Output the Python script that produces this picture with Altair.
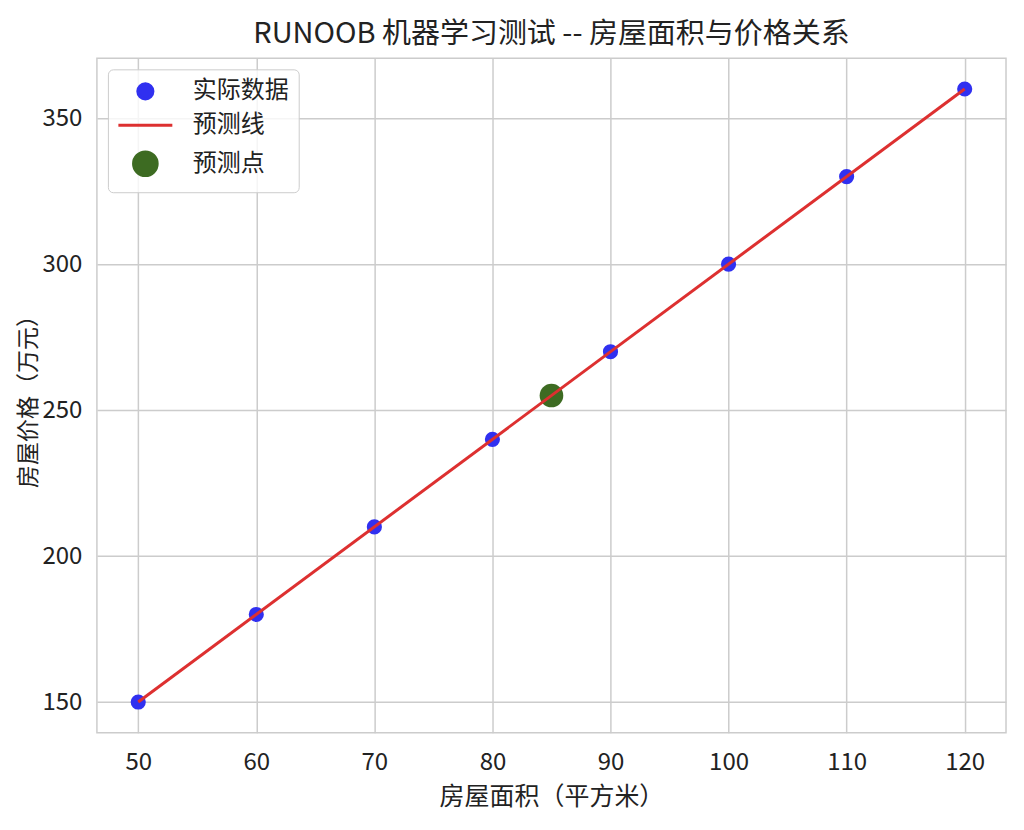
import altair as alt
import pandas as pd

areas = [50, 60, 70, 80, 90, 100, 110, 120]
prices = [150, 180, 210, 240, 270, 300, 330, 360]
pred_area = [85]
pred_price = [255]
line_x = [50, 120]
line_y = [150, 360]
labels = ["实际数据", "预测线", "预测点"]
colors = ["#3030f0", "#dd3030", "#3d6b22"]

FONT = "Noto Sans CJK SC"

pts = pd.DataFrame({"x": areas, "y": prices, "s": labels[0]})
pred = pd.DataFrame({"x": pred_area, "y": pred_price, "s": labels[2]})
ln = pd.DataFrame({"x": line_x, "y": line_y, "s": labels[1]})

xs = alt.Scale(domain=[46.5, 123.5], nice=False, zero=False)
ys = alt.Scale(domain=[139.5, 370.5], nice=False, zero=False)

xenc = alt.X("x:Q", scale=xs, title="房屋面积（平方米）",
             axis=alt.Axis(values=[50, 60, 70, 80, 90, 100, 110, 120]))
yenc = alt.Y("y:Q", scale=ys, title="房屋价格（万元）",
             axis=alt.Axis(values=[150, 200, 250, 300, 350]))

leg = alt.Legend(title=None, orient="top-left")
fill = alt.Fill("s:N", sort=labels, scale=alt.Scale(domain=labels, range=colors), legend=leg)
stroke = alt.Stroke("s:N", sort=labels, scale=alt.Scale(domain=labels, range=colors), legend=leg)
shape = alt.Shape("s:N", sort=labels,
                  scale=alt.Scale(domain=labels, range=["circle", "M-3,0L3,0", "circle"]), legend=leg)
size = alt.Size("s:N", sort=labels,
                scale=alt.Scale(type="ordinal", domain=labels, range=[230, 324, 560]), legend=leg)

p1 = alt.Chart(pts).mark_point(filled=True, opacity=1, strokeWidth=0).encode(
    x=xenc, y=yenc, fill=fill, stroke=stroke, shape=shape, size=size)
p2 = alt.Chart(pred).mark_point(filled=True, opacity=1, strokeWidth=0).encode(
    x=xenc, y=yenc, fill=fill, stroke=stroke, shape=shape, size=size)
l1 = alt.Chart(ln).mark_line(color=colors[1], strokeWidth=3).encode(x=xenc, y=yenc)

chart = alt.layer(p1, p2, l1).properties(
    width=910, height=675,
    title=alt.TitleParams("RUNOOB 机器学习测试 -- 房屋面积与价格关系", fontSize=29,
                          font=FONT, fontWeight="normal", color="#222222", offset=9),
    autosize=alt.AutoSizeParams(type="none"),
    padding={"left": 89, "top": 50, "right": 10, "bottom": 90},
).configure_view(stroke="#cccccc", strokeWidth=1.5).configure_axis(
    grid=True, gridColor="#cccccc", gridWidth=1.5, domain=False, ticks=False,
    labelFont=FONT, labelFontSize=24, labelColor="#222222",
    titleFont=FONT, titleFontSize=25, titleFontWeight="normal", titleColor="#222222",
).configure_axisX(labelPadding=18, titlePadding=10).configure_axisY(
    labelPadding=15, titlePadding=2, titleFontSize=23).configure_legend(
    labelFont=FONT, labelFontSize=24, labelColor="#222222",
    strokeColor="#cccccc", fillColor="rgba(255,255,255,0.8)", cornerRadius=5,
    padding=10, offset=11, symbolStrokeWidth=3, rowPadding=8,
    symbolOffset=14, labelOffset=34,
)

chart.save("out.html", embed_options={"renderer": "svg", "actions": False})
